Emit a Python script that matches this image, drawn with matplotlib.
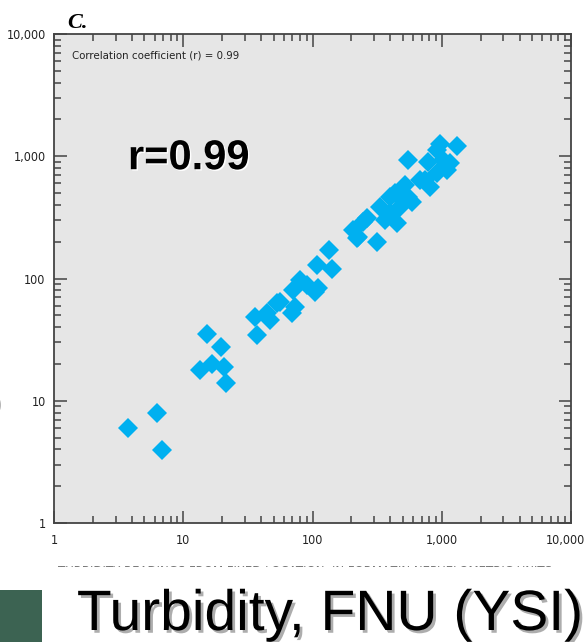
import matplotlib.pyplot as plt
import matplotlib.patheffects as pe
import matplotlib.transforms as mtransforms
from matplotlib.patches import Rectangle
from matplotlib.ticker import FuncFormatter, LogLocator, NullFormatter

# turbidity pairs (x = fixed location, y = YSI)
x_fixed = [3.76, 6.23, 6.81, 15.4, 19.5, 13.5, 16.6, 20.7, 21.4,
           37, 35.9, 44.2, 52.8, 56, 46.9, 69, 73, 71, 80, 90, 111, 105,
           108, 141, 133, 207, 220, 247, 226, 314, 263, 333, 364, 398, 448,
           435, 520, 551, 585, 398, 475, 551, 742, 811, 787, 914, 970,
           1028, 1158, 1092, 1306, 914, 679]
y_ysi = [5.95, 7.9, 3.96, 35, 27.7, 17.8, 20, 18.8, 13.9,
         34.5, 48.7, 51.9, 62.7, 64, 45.8, 52, 58.8, 80.5, 97, 88, 83, 78,
         129, 119, 171, 249, 213, 291, 220, 200, 311, 387, 301, 341, 283,
         498, 582, 467, 425, 467, 387, 932, 640, 564, 903, 1125, 1250,
         932, 875, 772, 1220, 725, 640]

r_value = 0.99
tick_vals = [1, 10, 100, 1000, 10000]

fig = plt.figure(figsize=(5.87, 6.42), dpi=100)
ax = fig.add_axes([54 / 587, 1 - 523 / 642, 517 / 587, 489 / 642])
ax.set_facecolor("#e6e6e6")

ax.plot(x_fixed, y_ysi, linestyle="none", marker="D", ms=10,
        color="#00b0f0", markeredgewidth=0)

ax.set_xscale("log")
ax.set_yscale("log")
ax.set_xlim(1, 10000)
ax.set_ylim(1, 10000)

fmt = FuncFormatter(lambda v, p: f"{int(round(v)):,}")
for a in (ax.xaxis, ax.yaxis):
    a.set_minor_locator(LogLocator(base=10, subs=range(2, 10), numticks=10))
    a.set_major_formatter(fmt)
    a.set_minor_formatter(NullFormatter())
ax.set_xticks(tick_vals)
ax.set_yticks(tick_vals)

ax.tick_params(which="both", direction="in", top=True, right=True,
               color="#444444", width=1.1)
ax.tick_params(which="major", length=9)
ax.tick_params(which="minor", length=5)
ax.tick_params(axis="x", pad=8)
ax.tick_params(axis="y", pad=6)
for lab in ax.get_xticklabels() + ax.get_yticklabels():
    lab.set_fontsize(9)
    lab.set_fontstretch("condensed")
    lab.set_color("#222222")

# the last x label sits a little left so it stays inside the picture
last = ax.get_xticklabels()[-1]
last.set_transform(last.get_transform() +
                   mtransforms.ScaledTranslation(-6 / 100, 0, fig.dpi_scale_trans))

for s in ax.spines.values():
    s.set_color("#444444")
    s.set_linewidth(1.3)

ax.text(0.035, 0.957, f"Correlation coefficient (r) = {r_value}",
        transform=ax.transAxes, fontsize=8.2, va="center", color="#222222",
        fontstretch="condensed")
ax.text(0.143, 0.746, f"r={r_value}", transform=ax.transAxes,
        family=["Liberation Sans", "DejaVu Sans"], fontsize=30,
        fontweight="bold", va="center",
        path_effects=[pe.SimplePatchShadow(offset=(1, -1), shadow_rgbFace="white", alpha=1),
                      pe.Normal()])

fig.text(67 / 587, 1 - 28 / 642, "C.", family=["Liberation Serif", "DejaVu Serif"],
         fontsize=16, fontweight="bold", fontstyle="italic", va="baseline")

# cropped edge of the original y-axis label
fig.text(-0.012, 1 - 405 / 642, ")", fontsize=20, color="#888888", va="center",
         family=["Liberation Sans", "DejaVu Sans"])

# cropped x-axis caption, only its top sliver is visible
clip = Rectangle((0, 1 - 567 / 642), 1, 4 / 642, transform=fig.transFigure)
cap = fig.text(0.52, 1 - 572 / 642,
               "TURBIDITY READINGS FROM FIXED LOCATION, IN FORMAZIN NEPHELOMETRIC UNITS",
               ha="center", va="center", fontsize=8.5, color="#777777")
cap.set_clip_path(clip)

fig.add_artist(Rectangle((0, 0), 42 / 587, 52 / 642, transform=fig.transFigure,
                         facecolor="#3c6352", edgecolor="none"))

fig.text(330 / 587, 1 - 630 / 642, "Turbidity, FNU (YSI)", ha="center",
         va="baseline", fontsize=41, family=["Liberation Sans", "DejaVu Sans"],
         path_effects=[pe.SimplePatchShadow(offset=(2, -2), shadow_rgbFace="#999999", alpha=0.8),
                       pe.Normal()])

fig.savefig("out.png", dpi=100)
